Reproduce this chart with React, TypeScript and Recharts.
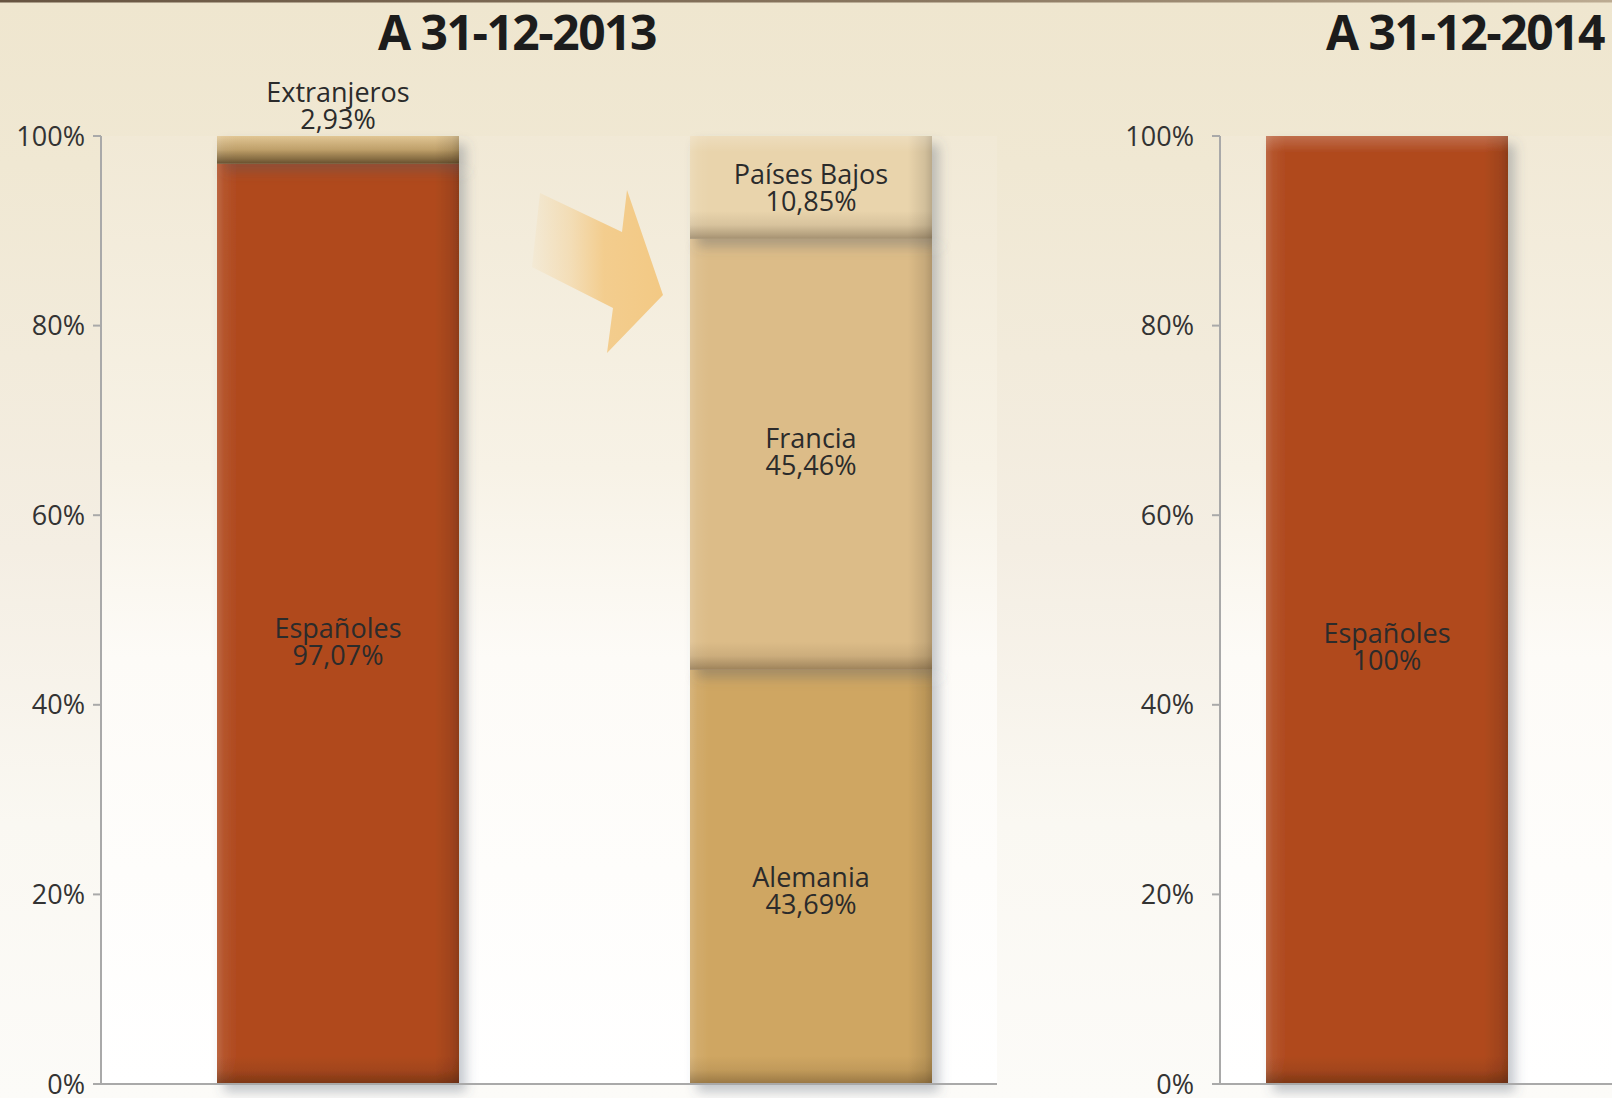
import React from 'react';
import { BarChart, Bar, XAxis, YAxis, CartesianGrid, LabelList } from 'recharts';

// ---------- data ----------
const categories2013 = ['Total', 'Extranjeros'];
const espanoles2013 = [97.07, 0];
const extranjeros2013 = [2.93, 0];
const alemania2013 = [0, 43.69];
const francia2013 = [0, 45.46];
const paisesBajos2013 = [0, 10.85];

const categories2014 = ['Total'];
const espanoles2014 = [100];

const yTicks = [0, 20, 40, 60, 80, 100];

const title2013 = 'A 31-12-2013';
const title2014 = 'A 31-12-2014';

const order2013 = ['Españoles', 'Extranjeros', 'Alemania', 'Francia', 'Países Bajos'];
const order2014 = ['Españoles'];

const data2013 = categories2013.map((cat, i) => ({
  cat,
  'Españoles': espanoles2013[i],
  'Extranjeros': extranjeros2013[i],
  'Alemania': alemania2013[i],
  'Francia': francia2013[i],
  'Países Bajos': paisesBajos2013[i],
}));

const data2014 = categories2014.map((cat, i) => ({
  cat,
  'Españoles': espanoles2014[i],
}));

// ---------- styles ----------
const FONT = '"Open Sans", "Noto Sans", sans-serif';
const AXIS = '#a9a9a9';
const LABEL_SIZE = 27;
const LINE_GAP = 27;

const seriesStyle: Record<string, { fill: string; shade: number }> = {
  'Españoles': { fill: '#b04a1f', shade: 0.4 },
  'Extranjeros': { fill: '#dab87a', shade: 0.66 },
  'Alemania': { fill: '#cfa662', shade: 0.34 },
  'Francia': { fill: '#dcbc88', shade: 0.36 },
  'Países Bajos': { fill: '#e9d4ac', shade: 0.36 },
};

const labelDy2013: Record<string, number> = {
  'Españoles': 18,
  'Alemania': 14,
  'Francia': -2,
  'Países Bajos': 1,
};
const labelDy2014: Record<string, number> = { 'Españoles': 37 };
const aboveLabels = ['Extranjeros'];

const fmtPct = (v: number) =>
  Number.isInteger(v) ? `${v}%` : `${v.toFixed(2).replace('.', ',')}%`;

function makeShape(key: string, order: string[]) {
  return (props: any) => {
    const { x, y, width, height, payload } = props;
    if (!height || height <= 0 || !payload || !(payload[key] > 0)) return <g />;
    const st = seriesStyle[key];
    const nonzero = order.filter((k) => payload[k] > 0);
    const isTop = nonzero[nonzero.length - 1] === key;
    const bh = Math.min(28, height);
    return (
      <g filter="url(#barShadow)">
        <rect x={x} y={y} width={width} height={height} fill={st.fill} />
        <rect x={x} y={y} width={width} height={height} fill="url(#hShade)" />
        {isTop && (
          <rect x={x} y={y} width={width} height={Math.min(16, height)} fill="url(#topLight)" />
        )}
        <rect
          x={x}
          y={y + height - bh}
          width={width}
          height={bh}
          fill="url(#bottomDark)"
          opacity={st.shade}
        />
      </g>
    );
  };
}

function makeLabel(key: string, dyMap: Record<string, number>) {
  return (props: any) => {
    const { x, y, width, height, value } = props;
    if (!value || value <= 0) return null;
    const cx = x + width / 2;
    const above = aboveLabels.includes(key);
    const mid = above ? y - 30 : y + height / 2 + (dyMap[key] || 0);
    const base = LABEL_SIZE * 0.35;
    return (
      <text textAnchor="middle" fontFamily={FONT} fontSize={LABEL_SIZE} fill="#2b2b2b">
        <tspan x={cx} y={mid - LINE_GAP / 2 + base}>{key}</tspan>
        <tspan x={cx} y={mid + LINE_GAP / 2 + base}>{fmtPct(value)}</tspan>
      </text>
    );
  };
}

const Defs = () => (
  <svg width={0} height={0} style={{ position: 'absolute', left: 0, top: 0 }}>
    <defs>
      <linearGradient id="plotGrad" x1="0" y1="0" x2="0" y2="1">
        <stop offset="0" stopColor="#f1e9d6" />
        <stop offset="0.35" stopColor="#f7f2e6" />
        <stop offset="0.55" stopColor="#fdfbf7" />
        <stop offset="1" stopColor="#ffffff" />
      </linearGradient>
      <linearGradient id="hShade" x1="0" y1="0" x2="1" y2="0">
        <stop offset="0" stopColor="#ffffff" stopOpacity={0.16} />
        <stop offset="0.03" stopColor="#ffffff" stopOpacity={0.06} />
        <stop offset="0.08" stopColor="#ffffff" stopOpacity={0} />
        <stop offset="0.9" stopColor="#000000" stopOpacity={0} />
        <stop offset="0.97" stopColor="#000000" stopOpacity={0.1} />
        <stop offset="1" stopColor="#000000" stopOpacity={0.2} />
      </linearGradient>
      <linearGradient id="topLight" x1="0" y1="0" x2="0" y2="1">
        <stop offset="0" stopColor="#ffffff" stopOpacity={0.2} />
        <stop offset="1" stopColor="#ffffff" stopOpacity={0} />
      </linearGradient>
      <linearGradient id="bottomDark" x1="0" y1="0" x2="0" y2="1">
        <stop offset="0" stopColor="#2a1806" stopOpacity={0} />
        <stop offset="0.5" stopColor="#2a1806" stopOpacity={0.25} />
        <stop offset="0.85" stopColor="#2a1806" stopOpacity={0.75} />
        <stop offset="1" stopColor="#2a1806" stopOpacity={1} />
      </linearGradient>
      <filter id="barShadow" filterUnits="userSpaceOnUse" x="0" y="0" width="1700" height="1200">
        <feGaussianBlur in="SourceAlpha" stdDeviation="6" result="blur" />
        <feOffset in="blur" dx="7" dy="8" result="off" />
        <feFlood floodColor="#4e5a6c" floodOpacity="0.33" />
        <feComposite in2="off" operator="in" result="shadow" />
        <feMerge>
          <feMergeNode in="shadow" />
          <feMergeNode in="SourceGraphic" />
        </feMerge>
      </filter>
      <linearGradient id="arrowGrad" gradientUnits="userSpaceOnUse" x1="532" y1="0" x2="663" y2="0">
        <stop offset="0" stopColor="#f3ca87" stopOpacity={0.08} />
        <stop offset="0.3" stopColor="#f3ca87" stopOpacity={0.45} />
        <stop offset="0.55" stopColor="#f3ca87" stopOpacity={0.92} />
        <stop offset="1" stopColor="#f3c984" stopOpacity={1} />
      </linearGradient>
      <linearGradient id="topBorder" x1="0" y1="0" x2="1" y2="0">
        <stop offset="0" stopColor="#675441" />
        <stop offset="0.6" stopColor="#8c7962" />
        <stop offset="1" stopColor="#bcab92" />
      </linearGradient>
    </defs>
  </svg>
);

const yAxisCommon = {
  type: 'number' as const,
  domain: [0, 100] as [number, number],
  ticks: yTicks,
  interval: 0 as const,
  tickFormatter: (v: number) => `${v}%`,
  tickSize: 8,
  axisLine: { stroke: AXIS, strokeWidth: 2 },
  tickLine: { stroke: AXIS, strokeWidth: 2 },
  tick: { fill: '#333333', fontSize: 27, fontFamily: FONT },
};

export default function App() {
  return (
    <div
      style={{
        position: 'absolute',
        left: 0,
        top: 0,
        width: 1612,
        height: 1098,
        overflow: 'hidden',
        background:
          'linear-gradient(to bottom, #efe6cf 0%, #f0e8d3 15%, #f4eee3 50%, #faf8f2 75%, #fcfbf8 100%)',
        fontFamily: FONT,
      }}
    >
      <Defs />
      <div style={{ position: 'absolute', left: 0, top: 0 }}>
        <BarChart
          width={997}
          height={1098}
          data={data2013}
          margin={{ top: 136, right: 0, bottom: 4, left: 0 }}
        >
          <CartesianGrid horizontal={false} vertical={false} fill="url(#plotGrad)" />
          <XAxis
            dataKey="cat"
            tick={false}
            tickLine={false}
            height={10}
            axisLine={{ stroke: AXIS, strokeWidth: 2 }}
            padding={{ left: 0, right: -50 }}
          />
          <YAxis {...yAxisCommon} width={101} tickMargin={8} />
          {order2013.map((key) => (
            <Bar
              key={key}
              dataKey={key}
              stackId="s"
              barSize={242}
              isAnimationActive={false}
              fill={seriesStyle[key].fill}
              shape={makeShape(key, order2013)}
            >
              <LabelList dataKey={key} content={makeLabel(key, labelDy2013)} />
            </Bar>
          ))}
        </BarChart>
      </div>
      <div style={{ position: 'absolute', left: 1100, top: 0 }}>
        <BarChart
          width={512}
          height={1098}
          data={data2014}
          margin={{ top: 136, right: 0, bottom: 4, left: 0 }}
        >
          <CartesianGrid horizontal={false} vertical={false} fill="url(#plotGrad)" />
          <XAxis
            dataKey="cat"
            tick={false}
            tickLine={false}
            height={10}
            axisLine={{ stroke: AXIS, strokeWidth: 2 }}
            padding={{ left: 0, right: 58 }}
          />
          <YAxis {...yAxisCommon} width={120} tickMargin={18} />
          {order2014.map((key) => (
            <Bar
              key={key}
              dataKey={key}
              stackId="s"
              barSize={242}
              isAnimationActive={false}
              fill={seriesStyle[key].fill}
              shape={makeShape(key, order2014)}
            >
              <LabelList dataKey={key} content={makeLabel(key, labelDy2014)} />
            </Bar>
          ))}
        </BarChart>
      </div>
      <svg
        width={1612}
        height={1098}
        style={{ position: 'absolute', left: 0, top: 0, pointerEvents: 'none' }}
      >
        <rect x={0} y={0} width={1612} height={2.5} fill="url(#topBorder)" />
        <polygon
          points="540,193 622,232 627,190 663,295 607,353 613,308 532,267"
          fill="url(#arrowGrad)"
        />
        <text
          x={517}
          y={50}
          textAnchor="middle"
          fontFamily={FONT}
          fontWeight={700}
          fontSize={48}
          letterSpacing={-1.5}
          fill="#1c1c1c"
        >
          {title2013}
        </text>
        <text
          x={1465}
          y={50}
          textAnchor="middle"
          fontFamily={FONT}
          fontWeight={700}
          fontSize={48}
          letterSpacing={-1.5}
          fill="#1c1c1c"
        >
          {title2014}
        </text>
      </svg>
    </div>
  );
}
